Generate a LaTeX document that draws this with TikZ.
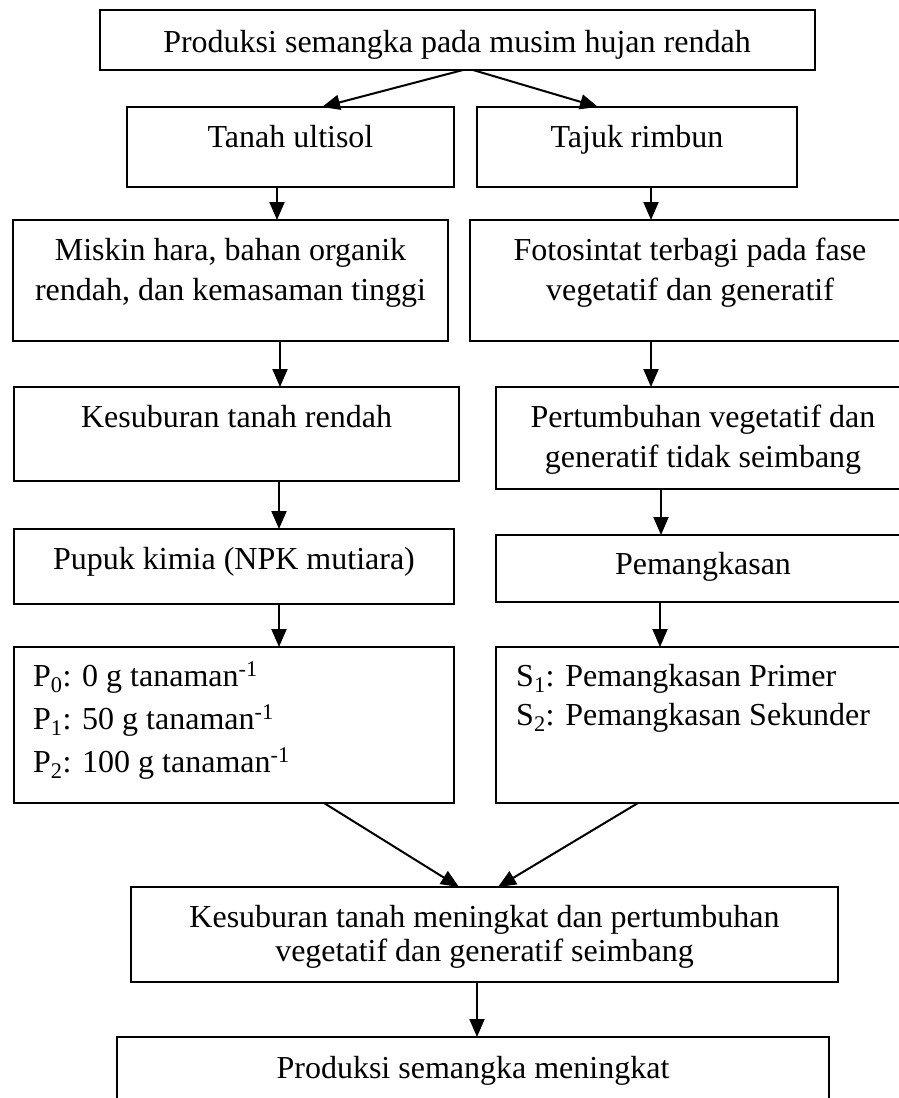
\documentclass[tikz,border=0pt]{standalone}
\usepackage{fontspec}
\setmainfont{Liberation Serif}
\usetikzlibrary{arrows.meta,fit}
\begin{document}
\begin{tikzpicture}[x=1pt,y=-1pt,
  box/.style={draw,line width=1.8pt,inner sep=0pt,outer sep=0pt},
  txt/.style={anchor=base,inner sep=0pt,font=\fontsize{32}{40}\selectfont},
  ltxt/.style={anchor=base west,inner sep=0pt,font=\fontsize{32}{40}\selectfont},
  arr/.style={line width=2pt,-{Triangle[length=18pt,width=15pt]}}]
\useasboundingbox (0,0) rectangle (899,1098);
\clip (0,0) rectangle (899,1098);
\fill[white] (0,0) rectangle (899,1098);
% boxes
\node[box,fit={(100,10) (815,70)}] (top) {};
\node[box,fit={(127,107) (454,187)}] (tanah) {};
\node[box,fit={(477,107) (797,187)}] (tajuk) {};
\node[box,fit={(13,220) (448,341)}] (miskin) {};
\node[box,fit={(470,220) (910,341)}] (foto) {};
\node[box,fit={(14,387) (459,481)}] (kesub) {};
\node[box,fit={(496,387) (910,489)}] (pert) {};
\node[box,fit={(14,529) (454,604)}] (pupuk) {};
\node[box,fit={(496,535) (910,602)}] (pemang) {};
\node[box,fit={(14,647) (454,803)}] (pbox) {};
\node[box,fit={(496,647) (910,803)}] (sbox) {};
\node[box,fit={(131,887) (838,982)}] (mening) {};
\node[box,fit={(117,1037) (829,1120)}] (prod) {};
% texts
\node[txt] (t1) at (457,52) {Produksi semangka pada musim hujan rendah};
\node[txt] (t2) at (290.5,147) {Tanah ultisol};
\node[txt] (t3) at (637,147) {Tajuk rimbun};
\node[txt] (t4) at (230.5,260) {Miskin hara, bahan organik};
\node[txt] (t5) at (230.5,300) {rendah, dan kemasaman tinggi};
\node[txt] (t6) at (690,260) {Fotosintat terbagi pada fase};
\node[txt] (t7) at (690,300) {vegetatif dan generatif};
\node[txt] (t8) at (236.5,427) {Kesuburan tanah rendah};
\node[txt] (t9) at (703,427) {Pertumbuhan vegetatif dan};
\node[txt] (t10) at (703,467) {generatif tidak seimbang};
\node[txt] (t11) at (234,569) {Pupuk kimia (NPK mutiara)};
\node[txt] (t12) at (703,574) {Pemangkasan};
\node[ltxt] (t13) at (33,686) {P\textsubscript{0}: 0 g tanaman\textsuperscript{-1}};
\node[ltxt] (t14) at (33,729) {P\textsubscript{1}: 50 g tanaman\textsuperscript{-1}};
\node[ltxt] (t15) at (33,772) {P\textsubscript{2}: 100 g tanaman\textsuperscript{-1}};
\node[ltxt] (t16) at (516,686) {S\textsubscript{1}: Pemangkasan Primer};
\node[ltxt] (t17) at (516,725) {S\textsubscript{2}: Pemangkasan Sekunder};
\node[txt] (t18) at (484.5,927) {Kesuburan tanah meningkat dan pertumbuhan};
\node[txt] (t19) at (484.5,961) {vegetatif dan generatif seimbang};
\node[txt] (t20) at (473,1078) {Produksi semangka meningkat};
% arrows
\draw[arr] (top.south -| 463,0) -- (tanah.north -| 322,0);
\draw[arr] (top.south -| 473,0) -- (tajuk.north -| 598,0);
\draw[arr] (tanah.south -| 277,0) -- (miskin.north -| 277,0);
\draw[arr] (tajuk.south -| 651,0) -- (foto.north -| 651,0);
\draw[arr] (miskin.south -| 280,0) -- (kesub.north -| 280,0);
\draw[arr] (foto.south -| 651,0) -- (pert.north -| 651,0);
\draw[arr] (kesub.south -| 279,0) -- (pupuk.north -| 279,0);
\draw[arr] (pert.south -| 661,0) -- (pemang.north -| 661,0);
\draw[arr] (pupuk.south -| 279,0) -- (pbox.north -| 279,0);
\draw[arr] (pemang.south -| 660,0) -- (sbox.north -| 660,0);
\draw[arr] (pbox.south -| 324,0) -- (mening.north -| 459,0);
\draw[arr] (sbox.south -| 638,0) -- (mening.north -| 498,0);
\draw[arr] (mening.south -| 477,0) -- (prod.north -| 477,0);
\end{tikzpicture}
\end{document}
